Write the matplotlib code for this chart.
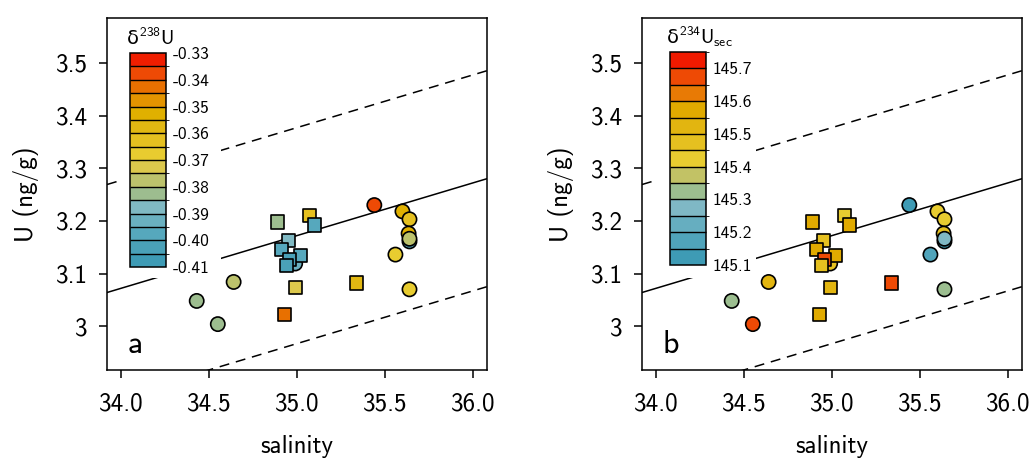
import numpy as np
import matplotlib
matplotlib.use("Agg")
import matplotlib.pyplot as plt
from matplotlib.colors import ListedColormap, BoundaryNorm
from matplotlib.patches import Rectangle

plt.rcParams['font.family'] = ['cmss10', 'DejaVu Sans']
plt.rcParams['mathtext.fontset'] = 'custom'
plt.rcParams['mathtext.rm'] = 'cmss10'
plt.rcParams['mathtext.it'] = 'DejaVu Sans'
plt.rcParams['axes.unicode_minus'] = False
plt.rcParams['axes.formatter.use_mathtext'] = True

# circles
circ_sal = [35.64, 35.44, 35.60, 35.64, 35.635, 35.64, 35.56, 35.64, 34.64, 34.43, 34.55, 34.99]
circ_u = [3.161, 3.230, 3.218, 3.203, 3.176, 3.166, 3.136, 3.070, 3.084, 3.048, 3.004, 3.119]
circ_d238 = [-0.396, -0.338, -0.352, -0.362, -0.352, -0.377, -0.367, -0.366, -0.377, -0.382, -0.381, -0.392]
circ_d234 = [145.12, 145.12, 145.42, 145.42, 145.45, 145.27, 145.17, 145.33, 145.52, 145.32, 145.68, 145.45]

# squares
sq_sal = [34.89, 35.07, 35.10, 34.95, 34.91, 35.02, 34.96, 34.94, 34.99, 35.34, 34.93]
sq_u = [3.198, 3.210, 3.192, 3.163, 3.146, 3.135, 3.127, 3.115, 3.074, 3.082, 3.022]
sq_d238 = [-0.382, -0.362, -0.398, -0.388, -0.396, -0.396, -0.400, -0.402, -0.372, -0.357, -0.343]
sq_d234 = [145.55, 145.42, 145.57, 145.47, 145.57, 145.55, 145.68, 145.47, 145.52, 145.68, 145.55]

# regression line with envelope
slope = 0.1
icpt = 3.172  # at salinity 35
env = 0.205

cols_a = ['#3e9bb5', '#4aa1b8', '#56a8bd', '#6ab0c0', '#80b9c3', '#9dbd8f', '#bcc26c', '#dcc84c',
          '#e8cc30', '#e5c020', '#e2b812', '#e0b000', '#e39400', '#e87000', '#ee4a05', '#f01e00']
cols_b = ['#3e9bb5', '#50a4bb', '#66aec0', '#7fb8c5', '#9cbe90', '#c2c265', '#e8cc30',
          '#e5c020', '#e2b510', '#e0aa00', '#e87a05', '#ee4a05', '#f01a00']

bnd_a = np.linspace(-0.41, -0.33, 17)
bnd_b = np.linspace(145.1, 145.75, 14)

fig = plt.figure(figsize=(10.35, 4.63), dpi=100)
ax_pos = [[0.1034, 0.201, 0.367, 0.760], [0.6203, 0.201, 0.367, 0.760]]
cb_pos = [[0.1256, 0.4233, 0.0348, 0.462], [0.6473, 0.4276, 0.0348, 0.460]]

panels = [
    (circ_d238, sq_d238, cols_a, bnd_a, [-0.33, -0.34, -0.35, -0.36, -0.37, -0.38, -0.39, -0.40, -0.41],
     ['-0.33', '-0.34', '-0.35', '-0.36', '-0.37', '-0.38', '-0.39', '-0.40', '-0.41'],
     r'$\delta^{238}\mathrm{U}$', 'a'),
    (circ_d234, sq_d234, cols_b, bnd_b, [145.7, 145.6, 145.5, 145.4, 145.3, 145.2, 145.1],
     ['145.7', '145.6', '145.5', '145.4', '145.3', '145.2', '145.1'],
     r'$\delta^{234}\mathrm{U}_{\mathrm{sec}}$', 'b'),
]

xs = np.array([33.92, 36.08])
for i, (cd, sd, cols, bnd, cticks, clabs, ctitle, letter) in enumerate(panels):
    ax = fig.add_axes(ax_pos[i])
    cmap = ListedColormap(cols)
    norm = BoundaryNorm(bnd, cmap.N)

    yl = icpt + slope * (xs - 35)
    ax.plot(xs, yl, color='black', lw=1.1, zorder=1)
    ax.plot(xs, yl + env, color='black', lw=1.1, ls=(0, (6.5, 4.5)), zorder=1)
    ax.plot(xs, yl - env, color='black', lw=1.1, ls=(0, (6.5, 4.5)), zorder=1)

    # white box behind the colour bar
    ax.add_patch(Rectangle((0.04, 0.26), 0.26, 0.75, transform=ax.transAxes,
                           facecolor='white', edgecolor='none', zorder=2))

    ax.scatter(circ_sal, circ_u, c=cd, cmap=cmap, norm=norm, marker='o', s=105,
               edgecolors='black', linewidths=1.2, zorder=3)
    ax.scatter(sq_sal, sq_u, c=sd, cmap=cmap, norm=norm, marker='s', s=90,
               edgecolors='black', linewidths=1.2, zorder=4)

    ax.set_xlim(33.92, 36.08)
    ax.set_ylim(2.917, 3.585)
    ax.set_xticks([34.0, 34.5, 35.0, 35.5, 36.0])
    ax.set_xticklabels(['34.0', '34.5', '35.0', '35.5', '36.0'])
    ax.set_yticks([3.0, 3.1, 3.2, 3.3, 3.4, 3.5])
    ax.set_yticklabels(['3', '3.1', '3.2', '3.3', '3.4', '3.5'])
    ax.tick_params(labelsize=18, length=6, width=1.1, direction='out')
    ax.tick_params(axis='x', pad=10)
    ax.tick_params(axis='y', pad=8)
    for sp in ax.spines.values():
        sp.set_linewidth(1.1)
    ax.set_xlabel('salinity', fontsize=18, labelpad=14)
    ax.set_ylabel('U (ng/g)', fontsize=18, labelpad=12)
    ax.text(0.055, 0.03, letter, transform=ax.transAxes, fontsize=23, va='bottom', ha='left')

    cax = fig.add_axes(cb_pos[i])
    cb = fig.colorbar(plt.cm.ScalarMappable(norm=norm, cmap=cmap), cax=cax,
                      boundaries=bnd, ticks=cticks, drawedges=True)
    cb.ax.set_yticklabels(clabs)
    cb.ax.tick_params(length=0, labelsize=12.5, pad=5)
    cb.outline.set_linewidth(1.1)
    cb.dividers.set_linewidth(1.0)
    cax.set_title(ctitle, fontsize=14, loc='left', x=-0.1, pad=6)

fig.savefig('out.png', dpi=100)
